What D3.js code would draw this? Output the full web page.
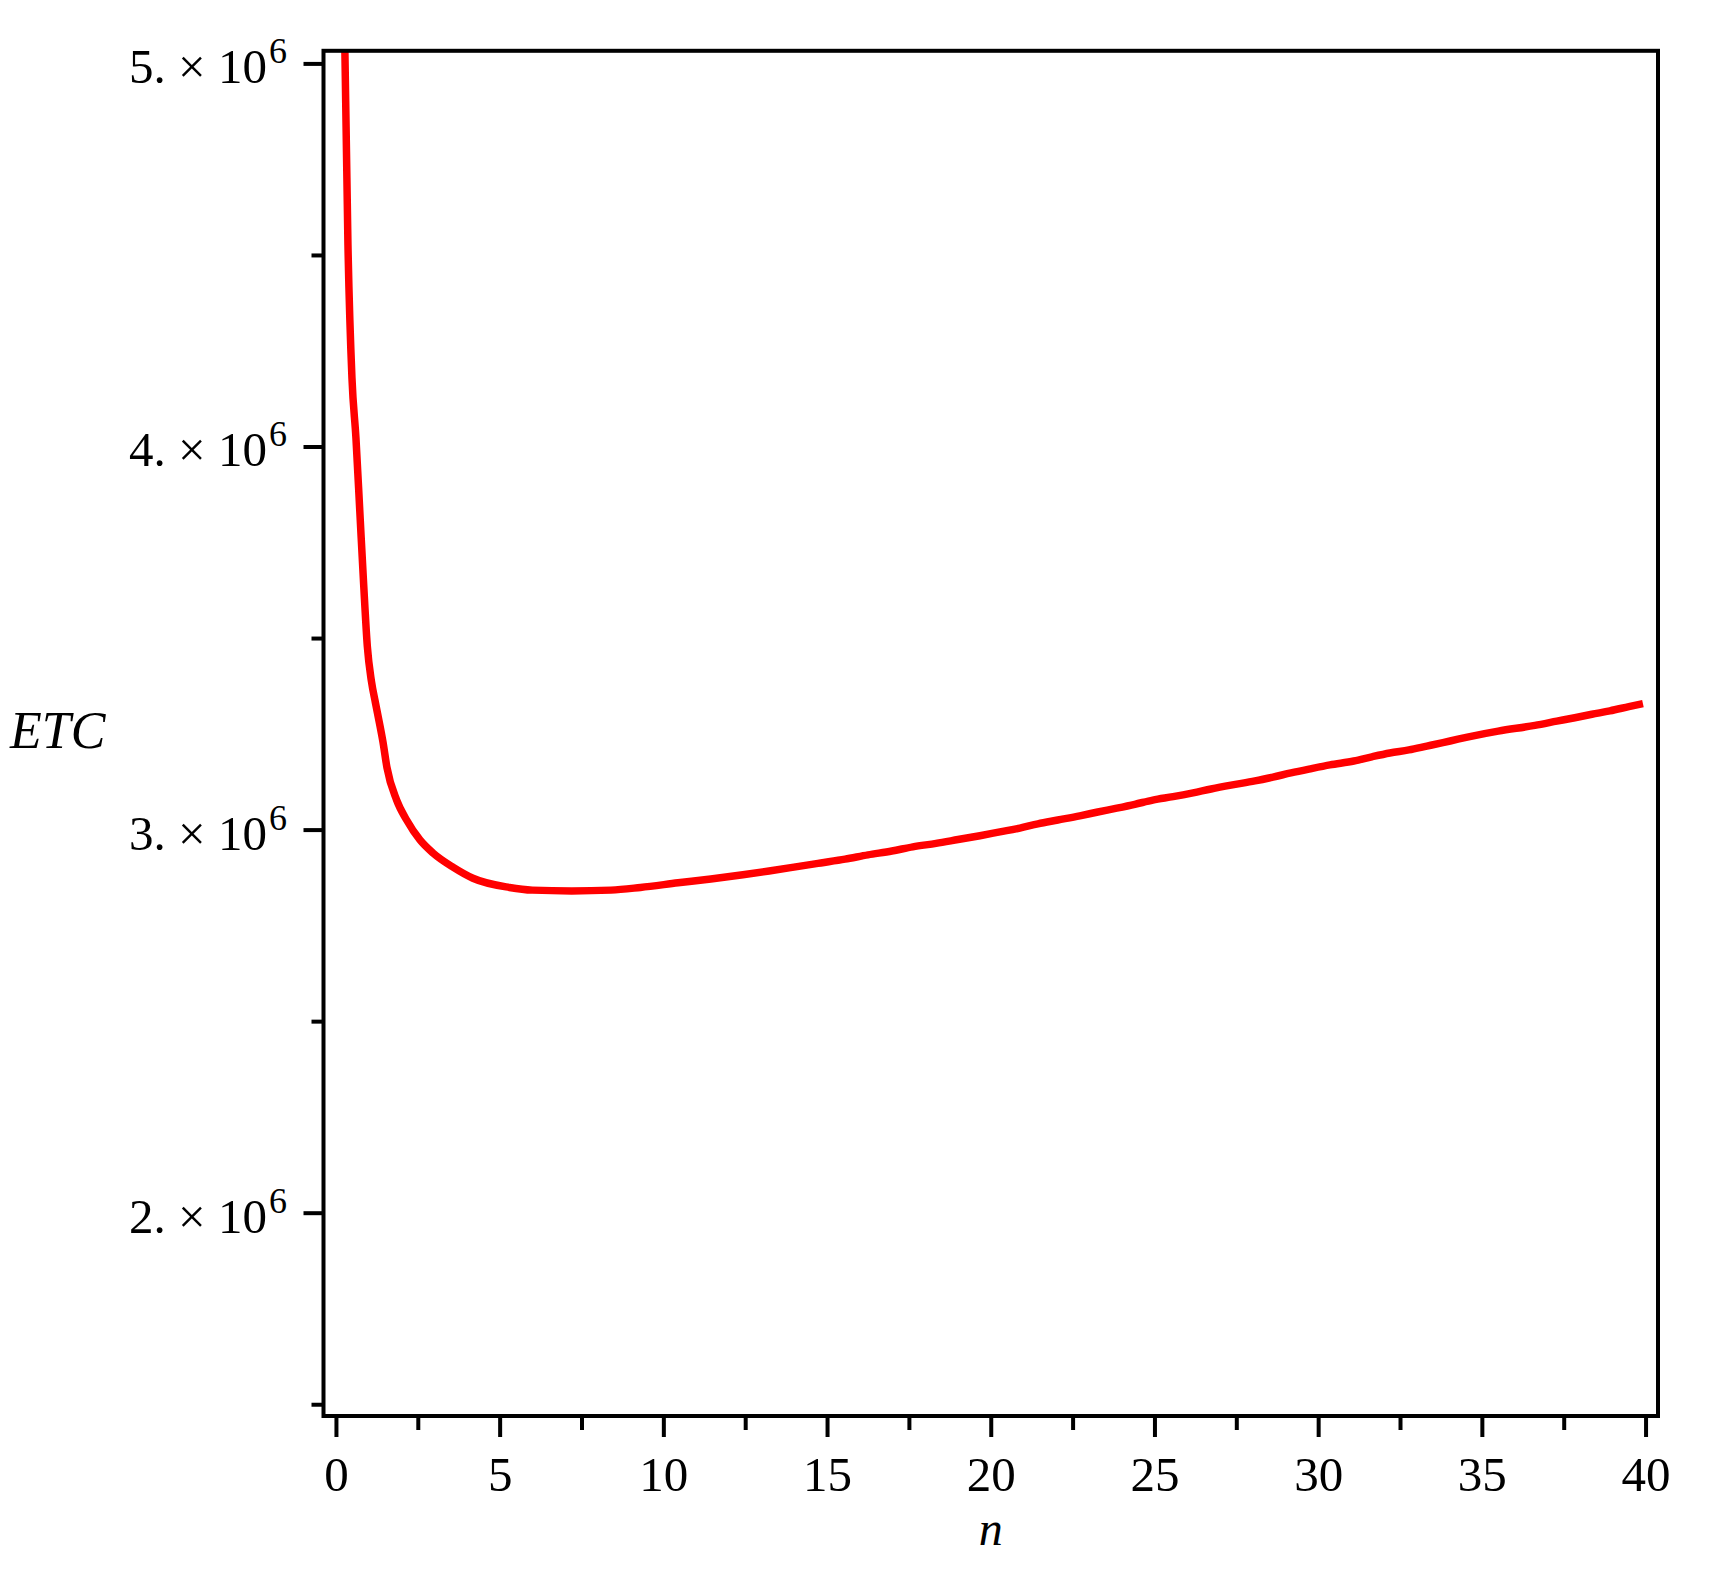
<!DOCTYPE html>
<html>
<head>
<meta charset="utf-8">
<script src="https://cdn.jsdelivr.net/npm/d3@7"></script>
<style>
  html, body { margin: 0; padding: 0; background: #ffffff; }
  svg { display: block; }
</style>
</head>
<body>
<svg id="chart" width="1731" height="1569"></svg>
<script>
// ---- data ----
const nValues = [0.27, 0.367, 0.489, 0.611, 0.733, 0.846, 0.959, 1.084, 1.209, 1.322, 1.436, 1.558,
  1.854, 2.159, 2.566, 2.963, 3.574, 4.184, 5.3, 6.0, 7.2, 8.4, 9.3, 10.45, 11.45, 12.43, 13.23,
  13.99, 14.81, 15.55, 16.25, 16.98, 17.62, 18.33, 19.0, 19.67, 20.28, 20.89, 21.44, 22.05, 22.72,
  23.27, 23.85, 24.40, 24.95, 25.57, 26.18, 26.73, 27.34, 28.07, 28.62, 29.17, 29.72, 30.36, 31.09,
  31.64, 32.19, 32.77, 33.32, 33.81, 34.27, 34.82, 35.5, 36.62, 37.29, 37.84, 38.36, 38.91, 39.49, 39.92];
const etcValues = [5.05, 4.526, 4.179, 4.022, 3.824, 3.641, 3.478, 3.387, 3.330, 3.281, 3.229, 3.162,
  3.077, 3.025, 2.973, 2.939, 2.902, 2.873, 2.849, 2.842, 2.840, 2.842, 2.849, 2.861, 2.871, 2.882, 2.892,
  2.902, 2.913, 2.923, 2.934, 2.944, 2.955, 2.964, 2.974, 2.984, 2.994, 3.004, 3.015, 3.025, 3.036,
  3.046, 3.056, 3.066, 3.077, 3.086, 3.096, 3.106, 3.116, 3.127, 3.137, 3.148, 3.158, 3.169, 3.179,
  3.190, 3.200, 3.208, 3.218, 3.227, 3.236, 3.246, 3.257, 3.272, 3.283, 3.292, 3.301, 3.310, 3.321, 3.329]
  .map(v => v * 1e6);

const xMajorTicks = [0, 5, 10, 15, 20, 25, 30, 35, 40];
const xMinorTicks = [2.5, 7.5, 12.5, 17.5, 22.5, 27.5, 32.5, 37.5];
const yMajorTicks = [2e6, 3e6, 4e6, 5e6];
const yMinorTicks = [1.5e6, 2.5e6, 3.5e6, 4.5e6];
const yTickMantissa = ["2.", "3.", "4.", "5."];
const yExponent = "6";
const xTitle = "n";
const yTitle = "ETC";

// ---- layout ----
const pLeft = 323.5, pRight = 1658, pTop = 50.8, pBottom = 1416;
const svg = d3.select("#chart");
const x = d3.scaleLinear().domain([-0.38, 40.38]).range([pLeft, pRight]);
const y = d3.scaleLinear().domain([1.4693e6, 5.0329e6]).range([pBottom, pTop]);

const serif = "'Liberation Serif', 'Times New Roman', serif";

svg.append("defs").append("clipPath").attr("id", "plotclip")
  .append("rect").attr("x", pLeft).attr("y", pTop).attr("width", pRight - pLeft).attr("height", pBottom - pTop);

// curve
const pts = nValues.map((n, i) => [n, etcValues[i]]);
svg.append("path")
  .datum(pts)
  .attr("clip-path", "url(#plotclip)")
  .attr("fill", "none")
  .attr("stroke", "#ff0000")
  .attr("stroke-width", 7.5)
  .attr("stroke-linejoin", "round")
  .attr("d", d3.line().x(d => x(d[0])).y(d => y(d[1])).curve(d3.curveMonotoneX));

// frame
svg.append("rect")
  .attr("x", pLeft).attr("y", pTop).attr("width", pRight - pLeft).attr("height", pBottom - pTop)
  .attr("fill", "none").attr("stroke", "#000").attr("stroke-width", 4);

// x axis ticks
const xAxisMajor = d3.axisBottom(x).tickValues(xMajorTicks).tickSize(21).tickPadding(0).tickFormat(d3.format("d"));
const gx = svg.append("g").attr("transform", `translate(0,${pBottom})`).call(xAxisMajor);
gx.select(".domain").remove();
gx.selectAll(".tick line").attr("stroke", "#000").attr("stroke-width", 4);
gx.selectAll(".tick text").attr("font-family", serif).attr("font-size", 49).attr("fill", "#000")
  .attr("y", 1491 - pBottom).attr("dy", null);

const xAxisMinor = d3.axisBottom(x).tickValues(xMinorTicks).tickSize(14).tickFormat("");
const gxm = svg.append("g").attr("transform", `translate(0,${pBottom})`).call(xAxisMinor);
gxm.select(".domain").remove();
gxm.selectAll(".tick line").attr("stroke", "#000").attr("stroke-width", 4);

// y axis ticks
const yAxisMajor = d3.axisLeft(y).tickValues(yMajorTicks).tickSize(20).tickFormat("");
const gy = svg.append("g").attr("transform", `translate(${pLeft},0)`).call(yAxisMajor);
gy.select(".domain").remove();
gy.selectAll(".tick line").attr("stroke", "#000").attr("stroke-width", 4);

const yAxisMinor = d3.axisLeft(y).tickValues(yMinorTicks).tickSize(12).tickFormat("");
const gym = svg.append("g").attr("transform", `translate(${pLeft},0)`).call(yAxisMinor);
gym.select(".domain").remove();
gym.selectAll(".tick line").attr("stroke", "#000").attr("stroke-width", 4);

// y tick labels  "5. × 10^6"
yMajorTicks.forEach((v, i) => {
  const t = svg.append("text")
    .attr("x", 287).attr("y", y(v) + 20)
    .attr("text-anchor", "end")
    .attr("font-family", serif).attr("fill", "#000");
  t.append("tspan").attr("font-size", 49).text(yTickMantissa[i] + " \u00d7 10");
  t.append("tspan").attr("font-size", 36).attr("dx", 2).attr("dy", -20).text(yExponent);
});

// axis titles
svg.append("text")
  .attr("x", 10).attr("y", 748)
  .attr("font-family", serif).attr("font-style", "italic").attr("font-size", 52).attr("fill", "#000")
  .text(yTitle);

svg.append("text")
  .attr("x", x(20)).attr("y", 1545)
  .attr("text-anchor", "middle")
  .attr("font-family", serif).attr("font-style", "italic").attr("font-size", 48).attr("fill", "#000")
  .text(xTitle);
</script>
</body>
</html>
